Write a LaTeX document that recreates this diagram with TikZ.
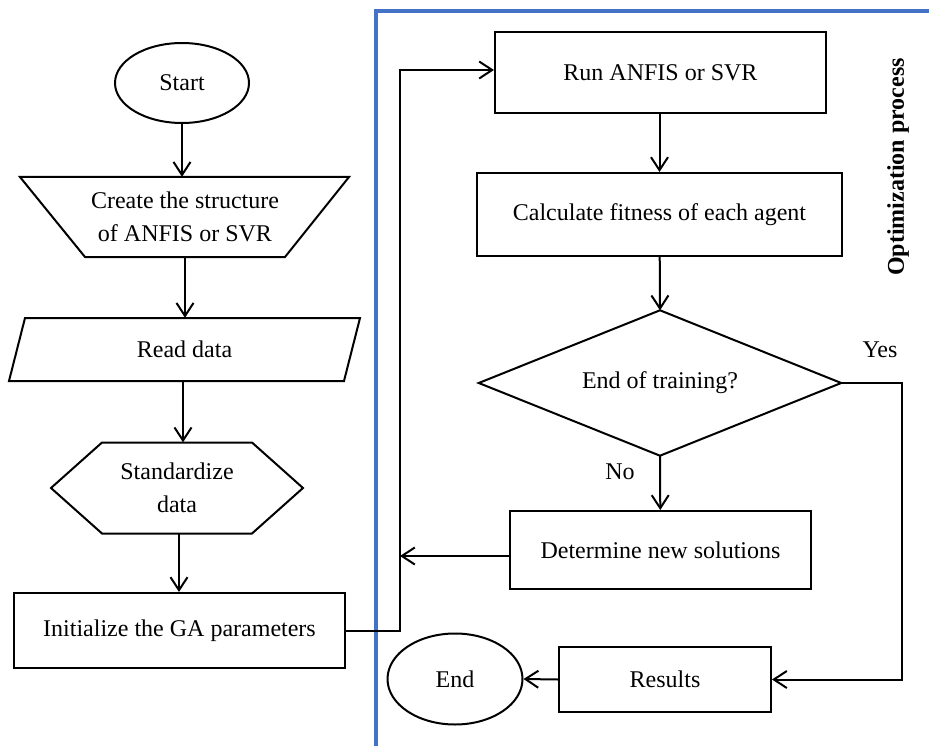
\documentclass[tikz,border=0pt]{standalone}
\usepackage{fontspec}
\setmainfont{Liberation Serif}
\usetikzlibrary{calc}
\usetikzlibrary{shapes.geometric,arrows.meta}
\definecolor{oBlue}{HTML}{4472C4}
\tikzset{
    wire/.style={
            line width=2pt
        },
    flow/.style={
            line width=2pt,
            -{Straight Barb[length=13pt,width=17pt]}
        },
    frame/.style={
            line width=3.5pt, % blue panel edge
            oBlue
        }
}
\tikzset{
    box/.style 2 args={
            draw,
            line width=2pt,
            minimum width=#1,
            minimum height=#2,
            inner sep=0pt,
            align=center
        },
    hollow/.style 2 args={
            minimum width=#1,
            minimum height=#2,
            inner sep=0pt, % outline drawn by hand
            align=center
        },
    terminal/.style 2 args={
            draw,
            ellipse,
            line width=2pt,
            minimum width=#1,
            minimum height=#2,
            inner sep=0pt
        }
}

\begin{document}
\begin{tikzpicture}[
        x=1pt,
        y=-1pt,
        font=\fontsize{24}{33}\selectfont,
    ]
    \useasboundingbox (0,0) rectangle (929,746);
    % blue panel
    \draw[frame] (929,11) -- (376,11) -- (376,746);
    % left column
    \node[terminal={134}{80}] (start) at (182,83) {Start};
    \node[hollow={329}{80}] (struct) at (185,217) {Create the structure\\of ANFIS or SVR};
    \draw[wire] ($(struct)+(-165,-40)$) -- ($(struct)+(164,-40)$)
    -- ($(struct)+(100,40)$) -- ($(struct)+(-100,40)$) -- cycle;
    \node[hollow={351}{63}] (read) at (184.5,349.5) {Read data};
    \draw[wire] ($(read)+(-159.5,-31.5)$) -- ($(read)+(175.5,-31.5)$)
    -- ($(read)+(159.5,31.5)$) -- ($(read)+(-175.5,31.5)$) -- cycle;
    \node[hollow={252}{91}] (std) at (177,488) {Standardize\\data};
    \draw[wire] ($(std)+(-75,-45.5)$) -- ($(std)+(75,-45.5)$)
    -- ($(std)+(126,0)$) -- ($(std)+(75,45.5)$)
    -- ($(std)+(-75,45.5)$) -- ($(std)+(-126,0)$) -- cycle;
    \node[box={331}{75}] (init) at (179.5,630.5) {Initialize the GA parameters};
    % right column
    \node[box={331}{81}] (run) at (660.5,72.5) {Run ANFIS or SVR};
    \node[box={365}{83}] (calc) at (659.5,214.5) {Calculate fitness of each agent};
    \node[hollow={362}{145}] (check) at (660,383) {End of training?};
    \draw[wire] (check.north) -- (check.east) -- (check.south) -- (check.west) -- cycle;
    \node[box={301}{78}] (new) at (660.5,550) {Determine new solutions};
    \node[box={212}{65}] (res) at (665,679.5) {Results};
    \node[terminal={135}{91}] (stop) at (455,679) {End};
    \node (yes) at (880,350) {Yes};
    \node (no) at (620,472) {No};
    \node[rotate=90, font=\fontsize{24}{28}\selectfont\bfseries] (opt) at (898,167) {Optimization process};
    % turning points
    \coordinate (loopb) at (400,630.5);
    \coordinate (loopt) at (400,70);
    \coordinate (yesr) at (902,383);
    % connectors
    \draw[flow] (start) -- (start |- struct.north);
    \draw[flow] (struct.south) -- (struct.south |- read.north);
    \draw[flow] ([xshift=-1.5pt]read.south) -- ([xshift=-1.5pt]read.south |- std.north);
    \draw[flow] ([xshift=2pt]std.south) -- ([xshift=2pt]std.south |- init.north);
    \draw[flow] (init.east) -- (loopb) -- (loopt) -- (loopt -| run.west);
    \draw[flow] ([xshift=-1pt]run.south) -- ([xshift=-1pt]run.south |- calc.north);
    \draw[flow] (calc) -- (check.north);
    \draw[flow] (check.south) -- (new);
    \draw[flow] ([yshift=-6pt]new.west) -- ([yshift=-6pt]new.west -| loopb);
    \draw[flow] (check.east) -- (yesr) |- (res.east);
    \draw[flow] (res.west) -- (stop.east);
\end{tikzpicture}
\end{document}
